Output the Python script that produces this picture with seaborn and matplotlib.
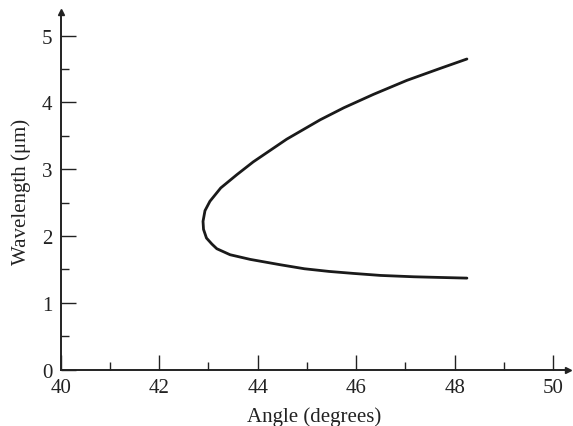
import matplotlib
matplotlib.use("Agg")
import matplotlib.pyplot as plt
import seaborn as sns
import pandas as pd
from matplotlib.ticker import MultipleLocator

# points, from the top end round the nose to the bottom end
angle = [48.25, 47.71, 47.03, 46.35, 45.75, 45.27, 44.59, 43.91, 43.58, 43.25,
         43.03, 42.93, 42.89, 42.90, 42.96, 43.07, 43.17, 43.44, 43.85, 44.46,
         44.95, 45.45, 45.95, 46.50, 47.17, 47.70, 48.25]
wavelength = [4.65, 4.51, 4.33, 4.12, 3.92, 3.74, 3.45, 3.11, 2.92, 2.72,
              2.52, 2.38, 2.22, 2.10, 1.97, 1.88, 1.81, 1.72, 1.65, 1.57,
              1.51, 1.47, 1.44, 1.41, 1.39, 1.38, 1.37]

x_ticks = [40, 42, 44, 46, 48, 50]
y_ticks = [0, 1, 2, 3, 4, 5]

df = pd.DataFrame({"angle": angle, "wavelength": wavelength})

sns.set_theme(style="ticks")
plt.rcParams["font.family"] = ["Liberation Serif", "DejaVu Serif"]

fig = plt.figure(figsize=(5.73, 4.27), dpi=100)
ax = fig.add_axes([0.106, 0.132, 0.885, 0.837])

# estimator=None keeps both branches (no averaging of repeated angles)
sns.lineplot(data=df, x="angle", y="wavelength", sort=False, estimator=None,
             color="#1a1a1a", linewidth=2.0, ax=ax)

ax.set_xlim(40, 50.3)
ax.set_ylim(0, 5.35)
ax.set_xticks(x_ticks)
ax.set_yticks(y_ticks)
ax.xaxis.set_minor_locator(MultipleLocator(1))
ax.yaxis.set_minor_locator(MultipleLocator(0.5))

for side in ["top", "right"]:
    ax.spines[side].set_visible(False)
for side in ["left", "bottom"]:
    ax.spines[side].set_linewidth(1.4)
    ax.spines[side].set_color("#222222")

ax.tick_params(which="major", direction="in", length=10.5, width=1.0,
               color="#222222", labelsize=15, labelcolor="#222222", pad=6)
ax.tick_params(which="minor", direction="in", length=5.5, width=1.0,
               color="#222222")

# arrow heads at the ends of the axes
ax.plot(1, 0, ">", color="#222222", markersize=4, transform=ax.transAxes, clip_on=False)
ax.plot(0, 1, "^", color="#222222", markersize=4, transform=ax.transAxes, clip_on=False)

ax.set_xlabel("Angle (degrees)", fontsize=15, color="#222222", labelpad=7)
ax.set_ylabel("Wavelength (μm)", fontsize=15, color="#222222", labelpad=8)

fig.savefig("out.png", dpi=100)
